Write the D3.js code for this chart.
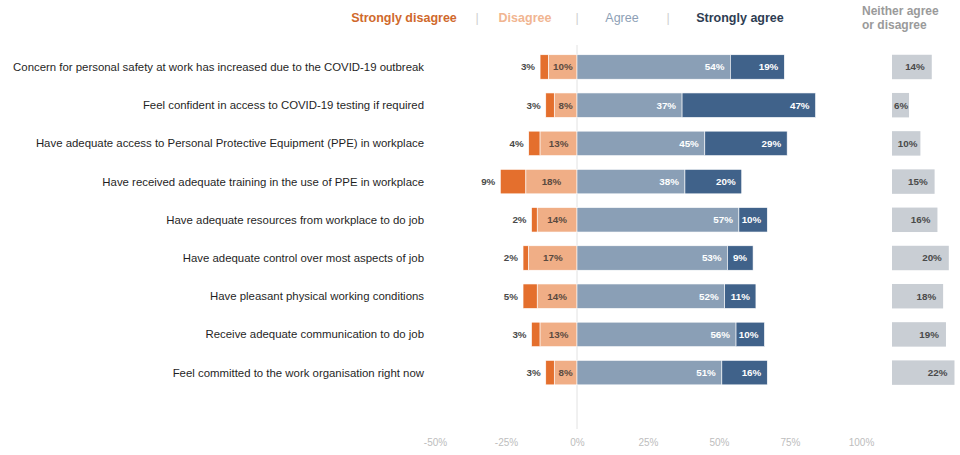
<!DOCTYPE html>
<html>
<head>
<meta charset="utf-8">
<script src="https://cdn.jsdelivr.net/npm/d3@7"></script>
<style>
  html, body { margin: 0; padding: 0; background: #fff; }
  svg { display: block; font-family: "Liberation Sans", Arial, Helvetica, sans-serif; }
</style>
</head>
<body>
<svg id="chart" width="960" height="455"></svg>
<script>
// Survey statements, top to bottom
const categories = [
  "Concern for personal safety at work has increased due to the COVID-19 outbreak",
  "Feel confident in access to COVID-19 testing if required",
  "Have adequate access to Personal Protective Equipment (PPE) in workplace",
  "Have received adequate training in the use of PPE in workplace",
  "Have adequate resources from workplace to do job",
  "Have adequate control over most aspects of job",
  "Have pleasant physical working conditions",
  "Receive adequate communication to do job",
  "Feel committed to the work organisation right now"
];

// Response shares (%)
const stronglyDisagree = [3, 3, 4, 9, 2, 2, 5, 3, 3];
const disagree         = [10, 8, 13, 18, 14, 17, 14, 13, 8];
const agree            = [54, 37, 45, 38, 57, 53, 52, 56, 51];
const stronglyAgree    = [19, 47, 29, 20, 10, 9, 11, 10, 16];
const neutral          = [14, 6, 10, 15, 16, 20, 18, 19, 22];

const axisTicks = [-50, -25, 0, 25, 50, 75, 100];

const legendItems = ["Strongly disagree", "Disagree", "Agree", "Strongly agree"];

const colors = {
  sd: "#e46f2d",
  d: "#f0ae86",
  a: "#8a9fb6",
  sa: "#40628a",
  n: "#c9ced4"
};

const svg = d3.select("#chart");

const x = d3.scaleLinear().domain([-50, 100]).range([435, 861]);
const xn = d3.scaleLinear().domain([0, 100]).range([892, 1176]);
const y = d3.scaleBand().domain(categories).range([41, 398.6]).padding(0.36);
const bh = y.bandwidth();

const rows = categories.map((c, i) => ({
  cat: c,
  sd: stronglyDisagree[i], d: disagree[i], a: agree[i], sa: stronglyAgree[i], n: neutral[i]
}));

// zero line
svg.append("line")
  .attr("x1", x(0)).attr("x2", x(0))
  .attr("y1", 45).attr("y2", 429)
  .attr("stroke", "#e2e2e2").attr("stroke-width", 1);

// legend
const legendX = [404, 525, 622, 740];
const legendColors = ["#d0692c", "#f1b591", "#8d9fb6", "#2e3d52"];
const legendWeights = ["bold", "bold", "normal", "bold"];
const lg = svg.append("g");
legendItems.forEach((t, i) => {
  lg.append("text")
    .attr("x", legendX[i]).attr("y", 22)
    .attr("text-anchor", "middle")
    .attr("font-size", 12.5)
    .attr("font-weight", legendWeights[i])
    .attr("fill", legendColors[i])
    .text(t);
});
[477, 577, 668].forEach(sx => {
  lg.append("text").attr("x", sx).attr("y", 22).attr("text-anchor", "middle")
    .attr("font-size", 12.5).attr("fill", "#cfcfcf").text("|");
});
lg.append("text").attr("x", 862).attr("y", 15).attr("font-size", 12)
  .attr("font-weight", "bold").attr("fill", "#9a9a9a").text("Neither agree");
lg.append("text").attr("x", 862).attr("y", 29).attr("font-size", 12)
  .attr("font-weight", "bold").attr("fill", "#9a9a9a").text("or disagree");

// category labels
svg.append("g").selectAll("text").data(rows).join("text")
  .attr("x", 424)
  .attr("y", d => y(d.cat) + bh / 2)
  .attr("dy", "0.35em")
  .attr("text-anchor", "end")
  .attr("font-size", 11.4)
  .attr("fill", "#1f1f1f")
  .text(d => d.cat);

const bars = svg.append("g");
const labels = svg.append("g").attr("font-size", 9.8).attr("font-weight", "bold");

rows.forEach(r => {
  const y0 = y(r.cat);
  const cy = y0 + bh / 2;
  const segs = [
    { key: "sd", x0: -(r.d + r.sd), x1: -r.d },
    { key: "d", x0: -r.d, x1: 0 },
    { key: "a", x0: 0, x1: r.a },
    { key: "sa", x0: r.a, x1: r.a + r.sa }
  ];
  segs.forEach(s => {
    bars.append("rect")
      .attr("x", x(s.x0)).attr("y", y0)
      .attr("width", x(s.x1) - x(s.x0)).attr("height", bh)
      .attr("fill", colors[s.key])
      .attr("stroke", "#ffffff").attr("stroke-width", 0.6);
  });
  // neutral bar
  bars.append("rect")
    .attr("x", xn(0)).attr("y", y0)
    .attr("width", xn(r.n) - xn(0)).attr("height", bh)
    .attr("fill", colors.n);

  // value labels
  labels.append("text")
    .attr("x", x(-(r.d + r.sd)) - 5).attr("y", cy).attr("dy", "0.35em")
    .attr("text-anchor", "end").attr("fill", "#4a4a4a")
    .text(r.sd + "%");
  labels.append("text")
    .attr("x", (x(-r.d) + x(0)) / 2).attr("y", cy).attr("dy", "0.35em")
    .attr("text-anchor", "middle").attr("fill", "#5a4a40")
    .text(r.d + "%");
  labels.append("text")
    .attr("x", x(r.a) - 6).attr("y", cy).attr("dy", "0.35em")
    .attr("text-anchor", "end").attr("fill", "#ffffff")
    .text(r.a + "%");
  labels.append("text")
    .attr("x", x(r.a + r.sa) - 6).attr("y", cy).attr("dy", "0.35em")
    .attr("text-anchor", "end").attr("fill", "#ffffff")
    .text(r.sa + "%");
  const nw = xn(r.n) - xn(0);
  const nt = labels.append("text")
    .attr("y", cy).attr("dy", "0.35em").attr("fill", "#4a4a4a")
    .text(r.n + "%");
  if (nw > 22) {
    nt.attr("x", xn(r.n) - 3).attr("text-anchor", "end");
    if (nw > 36) nt.attr("x", xn(r.n) - 7);
  } else {
    nt.attr("x", xn(0) + 2).attr("text-anchor", "start");
  }
});

// bottom axis
const axis = svg.append("g")
  .attr("transform", "translate(0,442)")
  .call(d3.axisBottom(x).tickValues(axisTicks).tickFormat(d => d + "%").tickSize(0).tickPadding(0));
axis.select(".domain").remove();
axis.selectAll("text")
  .attr("font-size", 10)
  .attr("fill", "#bdbdbd")
  .attr("font-family", "Liberation Sans, Arial, sans-serif")
  .attr("dy", "0.35em");
</script>
</body>
</html>
